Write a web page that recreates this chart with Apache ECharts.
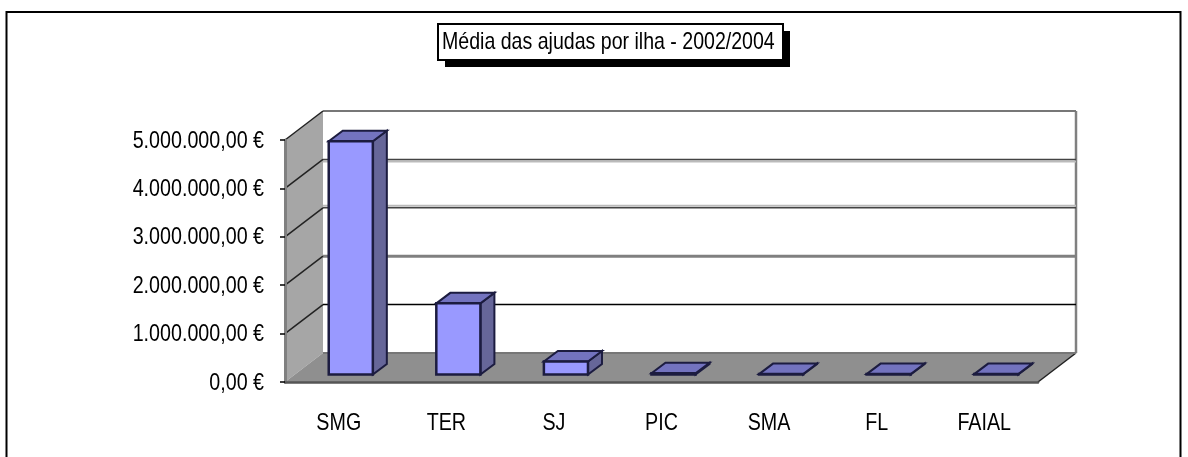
<!DOCTYPE html>
<html>
<head>
<meta charset="utf-8">
<style>
html, body { margin: 0; padding: 0; background: #fff; }
#chart { width: 1188px; height: 457px; }
</style>
<script src="https://cdn.jsdelivr.net/npm/echarts@6/dist/echarts.min.js"></script>
</head>
<body>
<div id="chart"></div>
<script>
var titleText = "Média das ajudas por ilha - 2002/2004";
var categories = ["SMG", "TER", "SJ", "PIC", "SMA", "FL", "FAIAL"];
var values = [4820000, 1470000, 270000, 25000, 8000, 8000, 8000];
var tickValues = [0, 1000000, 2000000, 3000000, 4000000, 5000000];
var tickLabels = ["0,00 €", "1.000.000,00 €", "2.000.000,00 €", "3.000.000,00 €", "4.000.000,00 €", "5.000.000,00 €"];

// aparencia 3D
var fontName = "'Liberation Sans', Arial, sans-serif";
var fontSize = 24;
var narrow = 0.82; // nao ha fonte estreita instalada, encolhe-se o texto
var wallDepth = [38, -29];
var barDepth = [14, -10.5];
var barOffset = [12, -7.5];
var barWidthRatio = 0.41;
// linhas da grelha, de 0 a 5 milhoes: cor, largura e sombra clara
var gridColors = ["#777777", "#000000", "#808080", "#444444", "#444444", "#777777"];
var gridWidths = [2, 1.5, 3, 1.5, 1.5, 2];
var gridGhosts = [0, 0, 0, -2, 2, 0];

var myChart = echarts.init(document.getElementById("chart"));

function poly(points, fill, stroke, width) {
	return {
		type: "polygon",
		shape: { points: points },
		style: { fill: fill, stroke: stroke, lineWidth: width, lineJoin: "miter" }
	};
}

function line(a, b, color, width) {
	return {
		type: "line",
		shape: { x1: a[0], y1: a[1], x2: b[0], y2: b[1] },
		style: { stroke: color, lineWidth: width }
	};
}

function label(text, x, y, align) {
	return {
		type: "text",
		x: x,
		y: y,
		scaleX: narrow,
		style: {
			text: text,
			fontFamily: fontName,
			fontSize: fontSize,
			fill: "#000000",
			textAlign: align,
			textVerticalAlign: "middle"
		}
	};
}

function shift(p, d) {
	return [p[0] + d[0], p[1] + d[1]];
}

// parede lateral e chao
function renderWalls(params, api) {
	var rect = params.coordSys;
	var top = api.coord([0, tickValues[tickValues.length - 1]])[1];
	var bottom = api.coord([0, 0])[1];
	var fl = [rect.x, bottom];
	var fr = [rect.x + rect.width, bottom];
	var tl = [rect.x, top];
	return {
		type: "group",
		children: [
			poly([tl, shift(tl, wallDepth), shift(fl, wallDepth), fl], "#a6a6a6", "none", 0),
			poly([fl, shift(fl, wallDepth), shift(fr, wallDepth), fr], "#8f8f8f", "none", 0),
			line(fr, shift(fr, wallDepth), "#222222", 1.5),
			line(shift(fr, wallDepth), [fr[0] + wallDepth[0], top + wallDepth[1]], "#808080", 2.5)
		]
	};
}

// linhas da grelha nas paredes e etiquetas do eixo dos valores
function renderGrid(params, api) {
	var rect = params.coordSys;
	var i = api.value(0);
	var y = api.coord([0, api.value(1)])[1];
	var a = [rect.x, y];
	var b = shift(a, wallDepth);
	var c = [rect.x + rect.width + wallDepth[0], b[1]];
	var children = [];
	if (gridGhosts[i]) {
		children.push(line(shift(b, [0, gridGhosts[i]]), shift(c, [0, gridGhosts[i]]), "#bbbbbb", 2));
	}
	children.push(line(b, c, gridColors[i], gridWidths[i]));
	if (i > 0) {
		children.push(line(a, b, "#222222", 1.5));
	}
	children.push(label(tickLabels[i], rect.x - 21, y + 1, "right"));
	return { type: "group", children: children };
}

function renderBar(params, api) {
	var c = api.coord([api.value(0), api.value(1)]);
	var base = api.coord([api.value(0), 0]);
	var w = api.size([1, 0])[0] * barWidthRatio;
	var x = c[0] - w / 2 + barOffset[0];
	var yTop = c[1] + barOffset[1];
	var yBot = base[1] + barOffset[1];
	var tl = [x, yTop], tr = [x + w, yTop], bl = [x, yBot], br = [x + w, yBot];
	var edge = "#1c1c40";
	return {
		type: "group",
		children: [
			poly([tr, shift(tr, barDepth), shift(br, barDepth), br], "#666699", edge, 2),
			poly([tl, shift(tl, barDepth), shift(tr, barDepth), tr], "#7373bf", edge, 2),
			poly([tl, tr, br, bl], "#9999ff", edge, 2.5),
			label(categories[params.dataIndex], c[0], base[1] + 41, "center")
		]
	};
}

var option = {
	animation: false,
	backgroundColor: "#ffffff",
	grid: { left: 285, right: 150, top: 140, bottom: 75 },
	xAxis: {
		type: "category",
		data: categories,
		z: 3,
		axisLine: { lineStyle: { color: "#555555", width: 2.5 } },
		axisTick: { length: 7, lineStyle: { color: "#000000", width: 1.5 } },
		axisLabel: { show: false }
	},
	yAxis: {
		type: "value",
		min: 0,
		max: 5000000,
		interval: 1000000,
		z: 3,
		splitLine: { show: false },
		axisLine: { show: true, lineStyle: { color: "#808080", width: 3 } },
		axisTick: { show: true, length: 5, lineStyle: { color: "#000000", width: 1.5 } },
		axisLabel: { show: false }
	},
	graphic: [
		{
			type: "rect",
			z: -1,
			shape: { x: 6.5, y: 12, width: 1174, height: 460 },
			style: { fill: "none", stroke: "#000000", lineWidth: 2 }
		},
		// caixa do titulo com sombra
		{
			type: "rect",
			z: 5,
			shape: { x: 445, y: 31, width: 345, height: 36 },
			style: { fill: "#000000" }
		},
		{
			type: "rect",
			z: 6,
			shape: { x: 438, y: 24, width: 345, height: 36 },
			style: { fill: "#ffffff", stroke: "#000000", lineWidth: 2 }
		},
		{
			type: "text",
			z: 7,
			x: 442,
			y: 42,
			scaleX: 0.815,
			style: {
				text: titleText,
				fontFamily: fontName,
				fontSize: fontSize,
				fill: "#000000",
				textVerticalAlign: "middle"
			}
		}
	],
	series: [
		{ type: "custom", silent: true, z: 1, renderItem: renderWalls, data: [[0, 0]] },
		{
			type: "custom",
			silent: true,
			z: 2,
			renderItem: renderGrid,
			data: tickValues.map(function (v, i) { return [i, v]; }),
			encode: { y: 1 }
		},
		{
			type: "custom",
			silent: true,
			z: 4,
			renderItem: renderBar,
			data: values.map(function (v, i) { return [i, v]; }),
			encode: { x: 0, y: 1 }
		}
	]
};

myChart.setOption(option);

window.addEventListener("resize", function () {
	myChart.resize();
});
</script>
</body>
</html>
